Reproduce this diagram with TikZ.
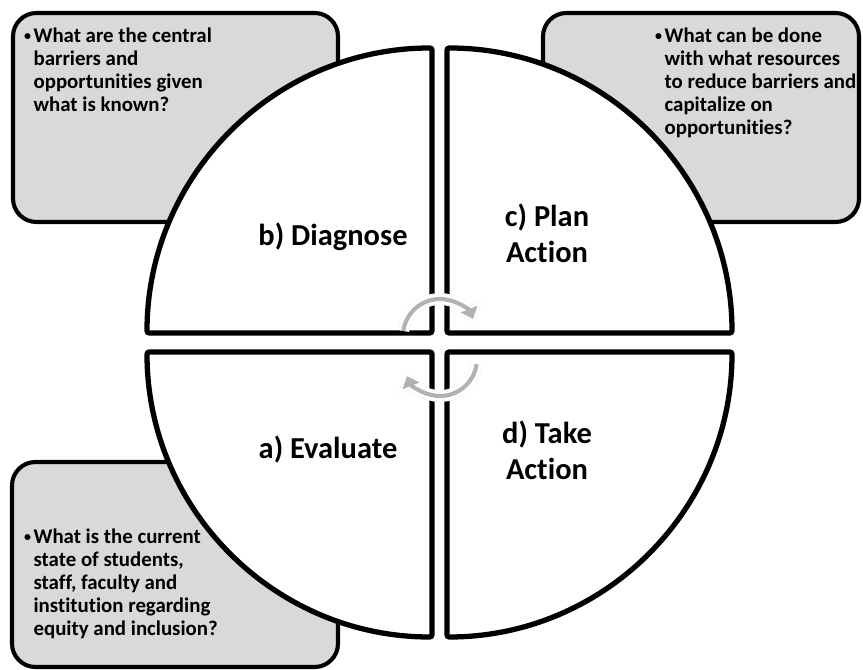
\documentclass[tikz,border=0pt]{standalone}
\usepackage{fontspec}
\setmainfont{Carlito}[RawFeature={-liga;-clig;-calt;-dlig}]
\usetikzlibrary{arrows.meta,shadows}

\tikzset{
    quarter/.style={draw=black, line width=4.5pt, fill=white, rounded corners=2pt,
        drop shadow={shadow xshift=1.2pt, shadow yshift=-1.2pt, opacity=0.3}},
    qbox/.style={draw=black, line width=3.5pt, fill=black!15, rounded corners=20pt},
    steplabel/.style={font=\fontsize{26}{31}\selectfont\bfseries, align=center, inner sep=0pt},
    question/.style={font=\fontsize{17.8}{19.6}\selectfont\bfseries, align=left, anchor=north west, inner sep=0pt},
}
\newcommand{\bul}{\makebox[8pt][l]{\raisebox{0.12em}{\fontsize{12}{12}\selectfont•}}}
\newcommand{\ind}{\hspace*{8pt}}
% three layers: shadow, white body, grey stripe
\newcommand{\turnarrow}[1]{%
    \draw[black!35, opacity=0.6, line width=10pt, -{Triangle[length=14pt,width=24pt]}, xshift=1.5pt, yshift=-1.5pt] #1;
    \draw[white, line width=10pt, -{Triangle[length=14pt,width=24pt]}] #1;
    \draw[black!30, line width=3.5pt, -{Triangle[length=9pt,width=15pt]}, shorten >=3pt] #1;
}

\begin{document}
\begin{tikzpicture}[x=0.03cm, y=0.03cm]
    \useasboundingbox (0,0) rectangle (863,670);

    % question boxes (behind the circle)
    \draw[qbox] (13,448) rectangle (338,657);
    \draw[qbox] (543,448) rectangle (859,657);
    \draw[qbox] (12,3) rectangle (338,208);

    \node[question] (qdiag) at (24,642) {\bul What are the central\\ \ind barriers and\\ \ind opportuni\kern0ptties given\\ \ind what is known?};
    \node[question] (qplan) at (655,642) {\bul What can be done\\ \ind with what resources\\ \ind to reduce barriers and\\ \ind capitalize on\\ \ind opportuni\kern0ptties?};
    \node[question] (qeval) at (24,141) {\bul What is the current\\ \ind state of students,\\ \ind staff, faculty and\\ \ind institution regarding\\ \ind equity and inclusion?};

    % the four quarters
    \coordinate (tl) at (432,337);
    \coordinate (tr) at (447,337);
    \coordinate (bl) at (432,318);
    \coordinate (br) at (447,318);
    \draw[quarter] (tl) -- ++(-285,0) arc[start angle=180, end angle=90, radius=285] -- cycle;
    \draw[quarter] (tr) -- ++(0,285) arc[start angle=90, end angle=0, radius=285] -- cycle;
    \draw[quarter] (bl) -- ++(0,-285) arc[start angle=270, end angle=180, radius=285] -- cycle;
    \draw[quarter] (br) -- ++(285,0) arc[start angle=0, end angle=-90, radius=285] -- cycle;

    \node[steplabel] (diag) at (333,433) {b) Diagnose};
    \node[steplabel] (plan) at (547,437) {c) Plan\\Action};
    \node[steplabel] (eval) at (328,220) {a) Evaluate};
    \node[steplabel] (act) at (547,220) {d) Take\\Action};

    % cycle arrows in the middle
    \coordinate (up) at (440,334);
    \coordinate (down) at (440,311);
    \turnarrow{(up) ++(172:37) arc[start angle=172, end angle=22, radius=37]}
    \turnarrow{(down) ++(-8:37) arc[start angle=-8, end angle=-158, radius=37]}
\end{tikzpicture}
\end{document}
